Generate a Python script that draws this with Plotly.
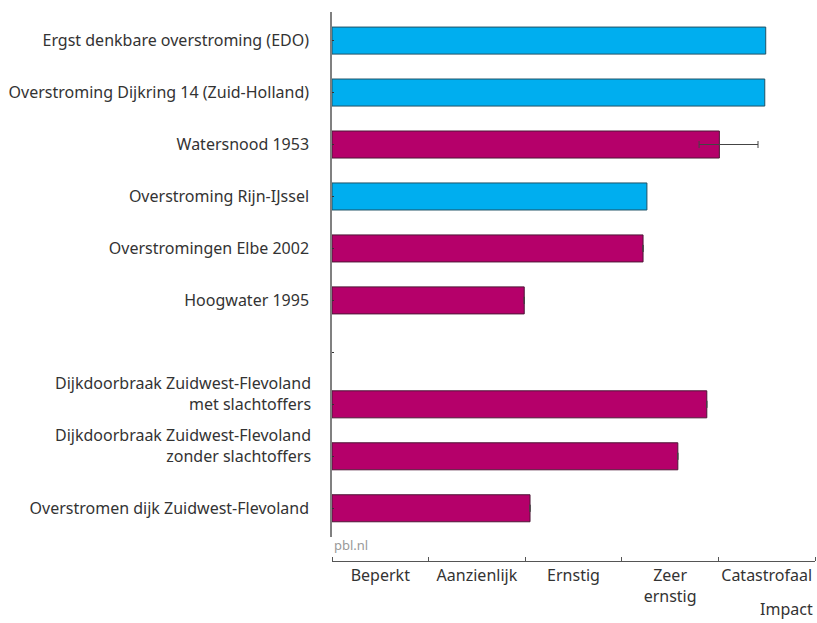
import plotly.graph_objects as go

# Scenario / event names (top to bottom); the blank entry is a spacer row
categories = [
    "Ergst denkbare overstroming (EDO)",
    "Overstroming Dijkring 14 (Zuid-Holland)",
    "Watersnood 1953",
    "Overstroming Rijn-IJssel",
    "Overstromingen Elbe 2002",
    "Hoogwater 1995",
    " ",
    "Dijkdoorbraak Zuidwest-Flevoland met slachtoffers",
    "Dijkdoorbraak Zuidwest-Flevoland zonder slachtoffers",
    "Overstromen dijk Zuidwest-Flevoland",
]

# Labels that wrap onto two lines (second line sits level with its bar)
two_line_labels = {
    "Dijkdoorbraak Zuidwest-Flevoland met slachtoffers":
        "Dijkdoorbraak Zuidwest-Flevoland<br>met slachtoffers",
    "Dijkdoorbraak Zuidwest-Flevoland zonder slachtoffers":
        "Dijkdoorbraak Zuidwest-Flevoland<br>zonder slachtoffers",
}

# Impact score on a 0-5 scale (one unit per impact class)
blue_values = [4.49, 4.48, None, 3.26, None, None, None, None, None, None]
magenta_values = [None, None, 4.01, None, 3.22, 1.99, None, 3.88, 3.58, 2.05]
err_plus = [None, None, 0.40, None, None, None, None, None, None, None]
err_minus = [None, None, 0.21, None, None, None, None, None, None, None]

impact_classes = ["Beperkt", "Aanzienlijk", "Ernstig", "Zeer<br>ernstig", "Catastrofaal"]

FONT = "Noto Sans"
TEXT = "#333333"
SIZE = 16

fig = go.Figure()
fig.add_trace(go.Bar(
    y=categories, x=blue_values, orientation="h", width=0.52,
    marker=dict(color="#00AEEF", line=dict(color="#1f5266", width=1)),
    showlegend=False, hoverinfo="x+y",
))
fig.add_trace(go.Bar(
    y=categories, x=magenta_values, orientation="h", width=0.52,
    marker=dict(color="#B5006A", line=dict(color="#4d1636", width=1)),
    error_x=dict(type="data", symmetric=False, array=err_plus, arrayminus=err_minus,
                 color="#444444", thickness=1, width=3.5),
    showlegend=False, hoverinfo="x+y",
))

tick_text = ["" if c in two_line_labels else c for c in categories]

annotations = [
    dict(text=two_line_labels[c], xref="paper", yref="y", x=0, y=c,
         xanchor="right", yanchor="middle", align="right", xshift=-19, yshift=11,
         showarrow=False, font=dict(family=FONT, size=SIZE, color=TEXT))
    for c in categories if c in two_line_labels
]
annotations += [
    dict(text="pbl.nl", xref="paper", yref="paper", x=0, y=0.03,
         xanchor="left", yanchor="middle", showarrow=False,
         font=dict(family=FONT, size=13, color="#999999")),
    dict(text="Impact", xref="paper", yref="paper", x=1, y=-0.088,
         xanchor="right", yanchor="middle", showarrow=False,
         font=dict(family=FONT, size=SIZE, color=TEXT)),
]

fig.update_layout(
    width=817, height=623,
    margin=dict(l=332, r=2, t=12, b=62),
    plot_bgcolor="white", paper_bgcolor="white",
    barmode="overlay",
    font=dict(family=FONT, size=SIZE, color=TEXT),
    xaxis=dict(
        range=[0, 5], showgrid=False, zeroline=False,
        showline=True, linecolor="#555555", linewidth=1,
        anchor="free", position=0,
        tickvals=[0.5, 1.5, 2.5, 3.5, 4.5], ticktext=impact_classes,
        ticks="", ticklen=0,
        tickfont=dict(family=FONT, size=SIZE, color=TEXT),
        minor=dict(tick0=0, dtick=1, ticks="inside", ticklen=4, tickcolor="#555555", tickwidth=1),
    ),
    yaxis=dict(
        domain=[0.044, 1],
        type="category", categoryorder="array", categoryarray=categories,
        tickvals=categories, ticktext=tick_text,
        range=[9.55, -0.55], showgrid=False, zeroline=False,
        showline=True, linecolor="#808080", linewidth=1.5,
        ticks="inside", ticklen=2, tickcolor="#333333",
        ticklabelstandoff=18,
        tickfont=dict(family=FONT, size=SIZE, color=TEXT),
    ),
    annotations=annotations,
)

fig.write_html("out.html")
